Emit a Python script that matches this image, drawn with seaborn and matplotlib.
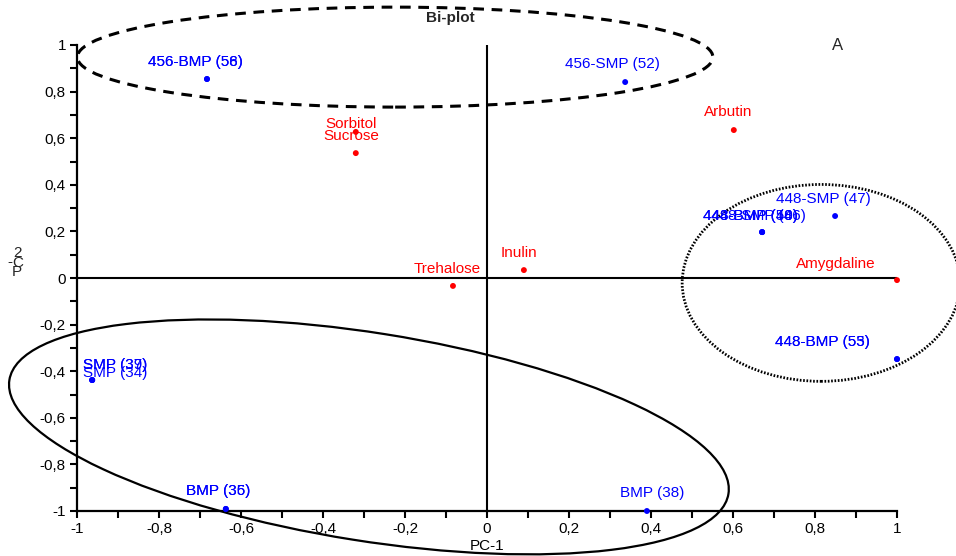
import numpy as np
import pandas as pd
import matplotlib
matplotlib.use("Agg")
import matplotlib.pyplot as plt
from matplotlib.patches import Ellipse
from matplotlib.ticker import MultipleLocator, FuncFormatter
import matplotlib.transforms as mtransforms
import seaborn as sns

# Sample scores (blue) on the first two principal components
sample_labels = ["456-BMP (56)", "456-BMP (58)", "456-SMP (52)", "448-SMP (47)",
                 "448-BMP (48)", "448-SMP (46)", "448-BMP (50)",
                 "448-BMP (53)", "448-BMP (55)",
                 "SMP (37)", "SMP (39)", "SMP (34)",
                 "BMP (35)", "BMP (36)", "BMP (38)"]
sample_pc1 = [-0.683, -0.683, 0.337, 0.849,
              0.671, 0.671, 0.671,
              1.0, 1.0,
              -0.963, -0.963, -0.963,
              -0.637, -0.637, 0.390]
sample_pc2 = [0.854, 0.854, 0.841, 0.266,
              0.197, 0.197, 0.197,
              -0.348, -0.348,
              -0.438, -0.438, -0.438,
              -0.991, -0.991, -1.0]

# Sugar loadings (red)
sugar_labels = ["Sorbitol", "Sucrose", "Arbutin", "Trehalose", "Inulin", "Amygdaline"]
sugar_pc1 = [-0.320, -0.320, 0.602, -0.083, 0.090, 1.0]
sugar_pc2 = [0.627, 0.536, 0.635, -0.034, 0.034, -0.009]

x_ticks = [-1, -0.8, -0.6, -0.4, -0.2, 0, 0.2, 0.4, 0.6, 0.8, 1]
y_ticks = [-1, -0.8, -0.6, -0.4, -0.2, 0, 0.2, 0.4, 0.6, 0.8, 1]

# Label offsets in pixels (dx, dy) relative to each point
sample_offsets = [(-12, 17), (-12, 17), (-13, 18), (-12, 17),
                  (-12, 16), (-4, 16), (-12, 16),
                  (-75, 17), (-75, 17),
                  (23, 15), (23, 15), (23, 7),
                  (-8, 18), (-8, 18), (5, 18)]
sugar_offsets = [(-5, 8), (-5, 17), (-6, 18), (-6, 17), (-5, 17), (-61, 16)]

sns.set_theme(style="white")
plt.rcParams["font.family"] = ["Liberation Sans", "DejaVu Sans"]

df = pd.DataFrame({
    "PC1": sample_pc1 + sugar_pc1,
    "PC2": sample_pc2 + sugar_pc2,
    "kind": ["sample"] * len(sample_pc1) + ["sugar"] * len(sugar_pc1),
})

fig = plt.figure(figsize=(9.56, 5.56), dpi=100)
ax = fig.add_axes([77 / 956, 1 - 511 / 556, 820 / 956, 466 / 556])
ax.set_xlim(-1, 1)
ax.set_ylim(-1, 1)

# Zero reference lines
ax.plot([-1, 1], [0, 0], color="black", lw=1.5, zorder=1)
ax.plot([0, 0], [-1, 1], color="black", lw=1.5, zorder=1)

sns.scatterplot(data=df, x="PC1", y="PC2", hue="kind",
                palette={"sample": "#0000ff", "sugar": "#ff0000"},
                s=18, edgecolor="none", legend=False, ax=ax,
                clip_on=False, zorder=3)

for lab, x, y, (dx, dy) in zip(sample_labels, sample_pc1, sample_pc2, sample_offsets):
    ax.annotate(lab, (x, y), xytext=(dx, dy), textcoords="offset pixels",
                ha="center", va="center", color="#0000ff", fontsize=11,
                annotation_clip=False, zorder=4)
for lab, x, y, (dx, dy) in zip(sugar_labels, sugar_pc1, sugar_pc2, sugar_offsets):
    ax.annotate(lab, (x, y), xytext=(dx, dy), textcoords="offset pixels",
                ha="center", va="center", color="#ff0000", fontsize=11,
                annotation_clip=False, zorder=4)

# Group outlines
ax.add_patch(Ellipse((-0.224, 0.948), 1.55, 0.429, fill=False, ec="black",
                     lw=2.2, ls=(0, (3.5, 2.5)), clip_on=False, zorder=2))
ax.add_patch(Ellipse((0.815, -0.021), 0.678, 0.845, fill=False, ec="black",
                     lw=2, ls=(0, (0.6, 0.6)), clip_on=False, zorder=2))
tilt = fig.dpi_scale_trans + mtransforms.ScaledTranslation(-0.288, -0.682, ax.transData)
ax.add_patch(Ellipse((0, 0), 7.28, 2.08, angle=-9, fill=False, ec="black",
                     lw=1.6, transform=tilt, clip_on=False, zorder=2))

# Axes styling
for side in ("top", "right"):
    ax.spines[side].set_visible(False)
for side in ("left", "bottom"):
    ax.spines[side].set_color("black")
    ax.spines[side].set_linewidth(1.6)
ax.set_xticks(x_ticks)
ax.set_yticks(y_ticks)
ax.xaxis.set_minor_locator(MultipleLocator(0.1))
ax.yaxis.set_minor_locator(MultipleLocator(0.1))
fmt = FuncFormatter(lambda v, p: ("%g" % round(v, 1)).replace(".", ","))
ax.xaxis.set_major_formatter(fmt)
ax.yaxis.set_major_formatter(fmt)
ax.tick_params(which="both", direction="out", length=5, width=1.5, color="black",
               bottom=True, left=True)
ax.tick_params(which="major", labelsize=11, labelcolor="black", pad=3)
ax.set_xlabel("PC-1", fontsize=11, color="black", labelpad=2)
ax.set_ylabel("")

# Stacked axis title on the left
fig.text(17 / 956, 1 - 253 / 556, "2", fontsize=11, ha="center", va="center")
fig.text(10 / 956, 1 - 262 / 556, "-", fontsize=11, ha="center", va="center")
fig.text(18 / 956, 1 - 263 / 556, "C", fontsize=11, ha="center", va="center")
fig.text(17 / 956, 1 - 272 / 556, "P", fontsize=11, ha="center", va="center")

fig.text(450 / 956, 1 - 18 / 556, "Bi-plot", fontsize=11, fontweight="bold",
         ha="center", va="center")
fig.text(838 / 956, 1 - 46 / 556, "A", fontsize=12, ha="center", va="center")

fig.savefig("out.png", dpi=100)
